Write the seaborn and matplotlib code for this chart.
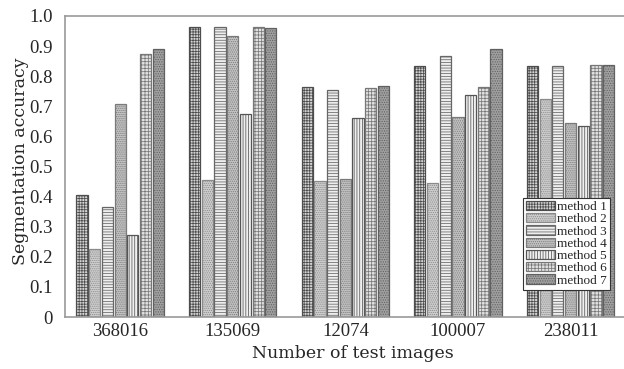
import numpy as np
import pandas as pd
import matplotlib
matplotlib.use("Agg")
import matplotlib.pyplot as plt
import seaborn as sns

images = ["368016", "135069", "12074", "100007", "238011"]
methods = ["method 1", "method 2", "method 3", "method 4", "method 5", "method 6", "method 7"]
m1 = [0.406, 0.963, 0.765, 0.834, 0.834]
m2 = [0.227, 0.454, 0.451, 0.444, 0.725]
m3 = [0.365, 0.963, 0.755, 0.868, 0.834]
m4 = [0.709, 0.933, 0.459, 0.665, 0.646]
m5 = [0.274, 0.673, 0.660, 0.737, 0.634]
m6 = [0.875, 0.963, 0.762, 0.765, 0.838]
m7 = [0.889, 0.960, 0.767, 0.889, 0.838]
yticks = [0, 0.1, 0.2, 0.3, 0.4, 0.5, 0.6, 0.7, 0.8, 0.9, 1.0]
ytick_labels = ["0", "0.1", "0.2", "0.3", "0.4", "0.5", "0.6", "0.7", "0.8", "0.9", "1.0"]

series = [m1, m2, m3, m4, m5, m6, m7]
rows = []
for name, vals in zip(methods, series):
    for img, v in zip(images, vals):
        rows.append({"image": img, "method": name, "acc": v})
df = pd.DataFrame(rows)

sns.set_style("white")
plt.rcParams["font.family"] = ["Liberation Serif", "DejaVu Serif"]
plt.rcParams["hatch.linewidth"] = 0.55

faces = ["#d4d4d4", "#cdcdcd", "#eeeeee", "#c2c2c2", "#f0f0f0", "#e2e2e2", "#a0a0a0"]
hatches = ["++++++", "........", "------", "........", "||||||", "+++++", "......."]
edges = ["#4d4d4d", "#8a8a8a", "#666666", "#7a7a7a", "#555555", "#777777", "#606060"]

fig = plt.figure(figsize=(6.24, 3.69), dpi=100)
ax = fig.add_axes([65 / 624, 1 - 317 / 369, 559 / 624, 301 / 369])

sns.barplot(data=df, x="image", y="acc", hue="method", order=images,
            hue_order=methods, palette=faces, width=0.79, gap=0.12,
            legend=False, ax=ax, errorbar=None, saturation=1)

for i, cont in enumerate(ax.containers):
    for p in cont:
        p.set_facecolor(faces[i])
        p.set_hatch(hatches[i])
        p.set_edgecolor(edges[i])
        p.set_linewidth(0.9)

ax.set_ylim(0, 1.0)
ax.set_xlim(-0.49, 4.475)
ax.set_yticks(yticks)
ax.set_yticklabels(ytick_labels)
ax.tick_params(axis="y", direction="in", length=6, width=0.8, color="#888888",
               labelsize=13.5, pad=9)
ax.tick_params(axis="x", direction="in", length=3, width=0.8, color="#888888",
               labelsize=13.5, pad=4)
for s in ["left", "bottom", "top"]:
    ax.spines[s].set_color("#999999")
    ax.spines[s].set_linewidth(1.2)
ax.spines["right"].set_visible(False)

ax.set_xlabel("Number of test images", fontsize=12.5, family=["DejaVu Serif"])
ax.set_ylabel("Segmentation accuracy", fontsize=12.5, family=["DejaVu Serif"])
ax.xaxis.set_label_coords(0.515, -0.093)
ax.yaxis.set_label_coords(-0.064, 0.518)

leg = ax.legend(ax.containers, methods, loc="lower right",
                bbox_to_anchor=(0.975, 0.09), fontsize=9.5, frameon=True,
                fancybox=False, edgecolor="#333333", framealpha=1,
                labelspacing=0.0, handlelength=2.2, handleheight=0.7,
                handletextpad=0.15, borderpad=0.25, borderaxespad=0)
leg.get_frame().set_linewidth(0.8)

fig.savefig("out.png", dpi=100)
